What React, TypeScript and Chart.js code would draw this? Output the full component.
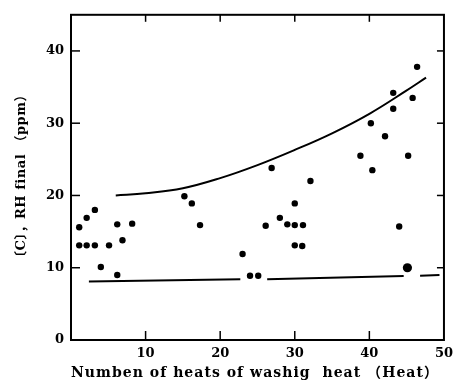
import { useEffect, useRef } from 'react';
import { Chart, registerables } from 'chart.js';

Chart.register(...registerables);

// ---- data ----
const dotX = [1.1, 1.1, 2.1, 2.1, 3.2, 3.2, 4.0, 5.1, 6.2, 6.2, 6.9, 8.2, 15.2, 16.2, 17.3, 23.0, 24.0, 25.1, 26.1, 26.9, 28.0, 29.0, 30.0, 30.0, 31.1, 30.0, 31.0, 32.1, 38.8, 40.4, 40.2, 42.1, 43.2, 43.2, 44.0, 45.2, 45.8, 46.4];
const dotY = [15.6, 13.1, 13.1, 16.9, 13.1, 18.0, 10.1, 13.1, 16.0, 9.0, 13.8, 16.1, 19.9, 18.9, 15.9, 11.9, 8.9, 8.9, 15.8, 23.8, 16.9, 16.0, 18.9, 15.9, 15.9, 13.1, 13.0, 22.0, 25.5, 23.5, 30.0, 28.2, 32.0, 34.2, 15.7, 25.5, 33.5, 37.8];
const bigDotX = [45.1];
const bigDotY = [10.0];
const upperCurveX = [6.0, 10.0, 15.0, 20.0, 25.0, 30.0, 35.0, 40.0, 44.8, 47.6];
const upperCurveY = [20.0, 20.3, 21.0, 22.4, 24.2, 26.3, 28.6, 31.3, 34.4, 36.3];
const lowerLineX = [2.4, 22.7, 24.5, 26.3, 44.6, 45.7, 46.8, 49.4];
const lowerLineY: (number | null)[] = [8.1, 8.4, null, 8.4, 8.85, null, 8.9, 9.0];

const xTickValues = [10, 20, 30, 40, 50];
const yTickValues = [0, 10, 20, 30, 40];
const frameTicksX = [10, 20, 30, 40];
const frameTicksY = [10, 20, 30, 40];
const X_TITLE = 'Numben of heats of washig  heat （Heat）';
const Y_TITLE = '〔C〕，RH final （ppm）';

const toPts = (xs: number[], ys: (number | null)[]) => xs.map((x, i) => ({ x, y: ys[i] }));

export default function App() {
  const ref = useRef<HTMLCanvasElement>(null);

  useEffect(() => {
    const canvas = ref.current;
    if (!canvas) return;

    const fitText = (ctx: any, text: string, width: number) => {
      ctx.letterSpacing = '0px';
      const w = ctx.measureText(text).width;
      const n = Array.from(text).length;
      const ls = Math.max(0, (width - w) / n);
      ctx.letterSpacing = `${ls}px`;
    };

    const framePlugin = {
      id: 'frame',
      afterDraw(chart: any) {
        const { ctx, chartArea: a, scales } = chart;
        const xs = scales.x;
        const ys = scales.y;
        const line = (x1: number, y1: number, x2: number, y2: number) => {
          ctx.beginPath();
          ctx.moveTo(x1, y1);
          ctx.lineTo(x2, y2);
          ctx.stroke();
        };
        ctx.save();
        ctx.strokeStyle = '#000';
        ctx.lineWidth = 2;
        ctx.strokeRect(a.left, a.top, a.right - a.left, a.bottom - a.top);
        ctx.lineWidth = 1.5;
        for (const v of frameTicksX) {
          const px = xs.getPixelForValue(v);
          line(px, a.bottom, px, a.bottom - 9);
          line(px, a.top, px, a.top + 7);
        }
        for (const v of frameTicksY) {
          const py = ys.getPixelForValue(v);
          line(a.left, py, a.left + 9, py);
          line(a.right, py, a.right - 7, py);
        }
        ctx.fillStyle = '#000';
        ctx.textAlign = 'center';
        ctx.textBaseline = 'middle';
        ctx.font = 'bold 14px "DejaVu Serif", "Noto Sans CJK JP"';
        fitText(ctx, X_TITLE, 368);
        ctx.fillText(X_TITLE, 255, 373);
        ctx.translate(22, 176);
        ctx.rotate(-Math.PI / 2);
        ctx.font = 'bold 13px "DejaVu Serif", "Noto Sans CJK JP"';
        fitText(ctx, Y_TITLE, 175);
        ctx.fillText(Y_TITLE, 0, 0);
        ctx.restore();
      },
    };

    const tickFont = { family: 'DejaVu Serif', weight: 'bold' as const, size: 13 };

    const chart = new Chart(canvas, {
      type: 'scatter',
      data: {
        datasets: [
          {
            data: toPts(upperCurveX, upperCurveY),
            showLine: true,
            borderColor: '#000',
            borderWidth: 2,
            pointRadius: 0,
            tension: 0.4,
          },
          {
            data: toPts(lowerLineX, lowerLineY),
            showLine: true,
            spanGaps: false,
            borderColor: '#000',
            borderWidth: 2,
            pointRadius: 0,
          },
          {
            data: toPts(dotX, dotY),
            backgroundColor: '#000',
            borderColor: '#000',
            pointRadius: 3.2,
            borderWidth: 0,
          },
          {
            data: toPts(bigDotX, bigDotY),
            backgroundColor: '#000',
            borderColor: '#000',
            pointRadius: 4.6,
            borderWidth: 0,
          },
        ] as any,
      },
      options: {
        animation: false,
        responsive: false,
        maintainAspectRatio: false,
        events: [],
        layout: { padding: { top: 7, right: 10, left: 0, bottom: 0 } },
        plugins: { legend: { display: false }, tooltip: { enabled: false } },
        scales: {
          x: {
            type: 'linear',
            min: 0,
            max: 50,
            afterBuildTicks: (s: any) => {
              s.ticks = xTickValues.map((v) => ({ value: v }));
            },
            afterFit: (s: any) => {
              s.height = 50;
            },
            grid: { display: false, drawTicks: false },
            border: { display: false },
            ticks: { color: '#000', font: tickFont, padding: 6, maxRotation: 0 },
          },
          y: {
            type: 'linear',
            min: 0,
            max: 45,
            afterBuildTicks: (s: any) => {
              s.ticks = yTickValues.map((v) => ({ value: v }));
            },
            afterFit: (s: any) => {
              s.width = 71;
            },
            grid: { display: false, drawTicks: false },
            border: { display: false },
            ticks: { color: '#000', font: tickFont, padding: 7 },
          },
        },
      } as any,
      plugins: [framePlugin],
    });

    return () => chart.destroy();
  }, []);

  return (
    <div style={{ position: 'fixed', left: 0, top: 0, width: 459, height: 390, background: '#fff' }}>
      <canvas ref={ref} width={459} height={390} style={{ display: 'block' }} />
    </div>
  );
}
